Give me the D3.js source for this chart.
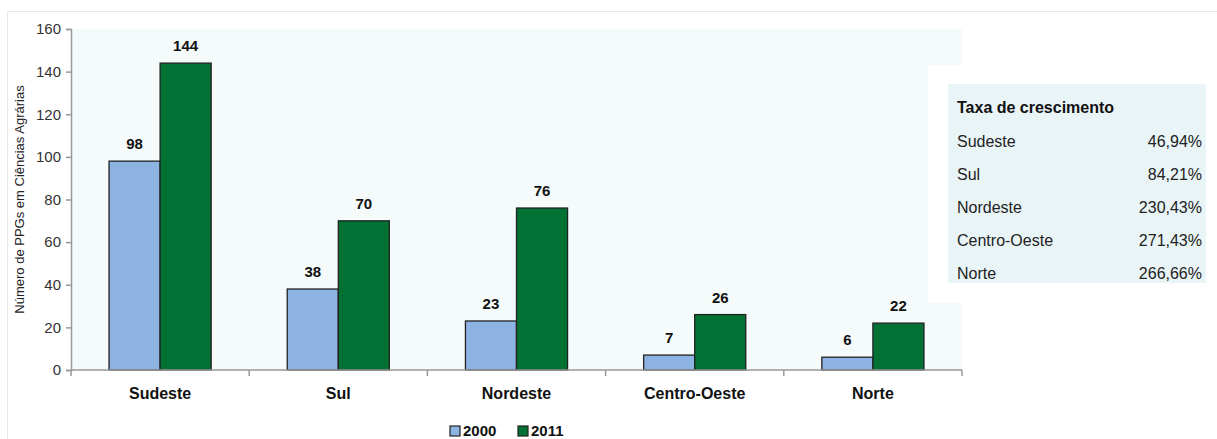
<!DOCTYPE html>
<html>
<head>
<meta charset="utf-8">
<script src="https://cdn.jsdelivr.net/npm/d3@7"></script>
<style>
  body { margin: 0; background: #fff; }
  svg text { font-family: "Liberation Sans Narrow", "Arial Narrow", "Liberation Sans", Arial, sans-serif; }
</style>
</head>
<body>
<div id="chart"></div>
<script>
var regions = ["Sudeste", "Sul", "Nordeste", "Centro-Oeste", "Norte"];
var years = ["2000", "2011"];
var values2000 = [98, 38, 23, 7, 6];
var values2011 = [144, 70, 76, 26, 22];
var yTicks = [0, 20, 40, 60, 80, 100, 120, 140, 160];
var growthLabels = ["Sudeste", "Sul", "Nordeste", "Centro-Oeste", "Norte"];
var growthRates = ["46,94%", "84,21%", "230,43%", "271,43%", "266,66%"];

var colors = { "2000": "#8db3e2", "2011": "#017234" };

var width = 1217, height = 439;
var plotLeft = 71, plotRight = 962, plotTop = 29, plotBottom = 370;

var svg = d3.select("#chart").append("svg")
  .attr("width", width)
  .attr("height", height);

// outer frame
svg.append("rect")
  .attr("x", 7.5).attr("y", 11.5)
  .attr("width", 1230).attr("height", 450)
  .attr("fill", "none")
  .attr("stroke", "#e8e8e8");

// plot background
svg.append("rect")
  .attr("x", plotLeft).attr("y", plotTop)
  .attr("width", plotRight - plotLeft).attr("height", plotBottom - plotTop)
  .attr("fill", "#f5fafa");

var x0 = d3.scaleBand()
  .domain(regions)
  .range([plotLeft, plotRight]);

var x1 = d3.scaleBand()
  .domain(years)
  .range([0, x0.bandwidth()])
  .paddingInner(0)
  .paddingOuter(0.745);

var y = d3.scaleLinear()
  .domain([0, 160])
  .range([plotBottom, plotTop]);

var data = regions.map(function(r, i) {
  return { region: r, vals: [
    { year: "2000", value: values2000[i] },
    { year: "2011", value: values2011[i] }
  ]};
});

//bars
var groups = svg.append("g").selectAll("g")
  .data(data)
  .join("g")
  .attr("transform", function(d) { return "translate(" + x0(d.region) + ",0)"; });

groups.selectAll("rect")
  .data(function(d) { return d.vals; })
  .join("rect")
  .attr("x", function(d) { return x1(d.year); })
  .attr("y", function(d) { return y(d.value); })
  .attr("width", x1.bandwidth())
  .attr("height", function(d) { return y(0) - y(d.value); })
  .attr("fill", function(d) { return colors[d.year]; })
  .attr("stroke", "#222")
  .attr("stroke-width", 1.3);

groups.selectAll("text")
  .data(function(d) { return d.vals; })
  .join("text")
  .attr("x", function(d) { return x1(d.year) + x1.bandwidth() / 2; })
  .attr("y", function(d) { return y(d.value) - 12; })
  .attr("text-anchor", "middle")
  .attr("font-size", 15)
  .attr("font-weight", "bold")
  .attr("fill", "#111")
  .text(function(d) { return d.value; });

//y axis
var yAxis = svg.append("g")
  .attr("transform", "translate(" + plotLeft + ",0)")
  .call(d3.axisLeft(y).tickValues(yTicks).tickSize(5).tickPadding(5));
yAxis.selectAll("path, line").attr("stroke", "#999").attr("stroke-width", 1.5);
yAxis.selectAll("text").attr("font-size", 15).attr("fill", "#333")
  .style("font-family", "'Liberation Sans Narrow', 'Arial Narrow', sans-serif");

//x axis
var xAxis = svg.append("g")
  .attr("transform", "translate(0," + plotBottom + ")");
xAxis.append("line")
  .attr("x1", plotLeft).attr("x2", plotRight)
  .attr("stroke", "#999").attr("stroke-width", 1.5);
xAxis.selectAll(".tick")
  .data(regions.concat(["end"]))
  .join("line")
  .attr("class", "tick")
  .attr("x1", function(d, i) { return i < regions.length ? x0(d) : plotRight; })
  .attr("x2", function(d, i) { return i < regions.length ? x0(d) : plotRight; })
  .attr("y1", 0).attr("y2", 6)
  .attr("stroke", "#999").attr("stroke-width", 1.5);
xAxis.selectAll(".cat")
  .data(regions)
  .join("text")
  .attr("class", "cat")
  .attr("x", function(d) { return x0(d) + x0.bandwidth() / 2; })
  .attr("y", 29)
  .attr("text-anchor", "middle")
  .attr("font-size", 16)
  .attr("font-weight", "bold")
  .attr("fill", "#111")
  .style("font-family", "'Liberation Sans', Arial, sans-serif")
  .text(function(d) { return d; });

//y axis title
svg.append("text")
  .attr("transform", "translate(24," + ((plotTop + plotBottom) / 2) + ") rotate(-90)")
  .attr("text-anchor", "middle")
  .attr("font-size", 13)
  .attr("fill", "#222")
  .text("Número de PPGs em Ciências Agrárias");

//legend
var legend = svg.append("g")
  .selectAll("g")
  .data(years)
  .join("g")
  .attr("transform", function(d, i) { return "translate(" + (450 + i * 68) + ",426)"; });
legend.append("rect")
  .attr("width", 10).attr("height", 10)
  .attr("fill", function(d) { return colors[d]; })
  .attr("stroke", "#222").attr("stroke-width", 1.2);
legend.append("text")
  .attr("x", 13).attr("y", 10)
  .attr("font-size", 15)
  .attr("font-weight", "bold")
  .attr("fill", "#111")
  .text(function(d) { return d; });

//growth table
svg.append("rect")
  .attr("x", 928).attr("y", 65)
  .attr("width", 289).attr("height", 238)
  .attr("fill", "#fff");
svg.append("rect")
  .attr("x", 948).attr("y", 84)
  .attr("width", 258).attr("height", 199)
  .attr("fill", "#e9f4f7");

var table = svg.append("g");
table.append("text")
  .attr("x", 957).attr("y", 113)
  .attr("font-size", 16)
  .attr("font-weight", "bold")
  .attr("fill", "#111")
  .style("font-family", "'Liberation Sans', Arial, sans-serif")
  .text("Taxa de crescimento");

var rowY = d3.scalePoint()
  .domain(growthLabels)
  .range([147, 279]);

table.selectAll(".lab")
  .data(growthLabels)
  .join("text")
  .attr("class", "lab")
  .attr("x", 957)
  .attr("y", function(d) { return rowY(d); })
  .attr("font-size", 16)
  .attr("fill", "#222")
  .style("font-family", "'Liberation Sans', Arial, sans-serif")
  .text(function(d) { return d; });

table.selectAll(".val")
  .data(growthRates)
  .join("text")
  .attr("class", "val")
  .attr("x", 1202)
  .attr("y", function(d, i) { return rowY(growthLabels[i]); })
  .attr("text-anchor", "end")
  .attr("font-size", 16)
  .attr("fill", "#222")
  .style("font-family", "'Liberation Sans', Arial, sans-serif")
  .text(function(d) { return d; });
</script>
</body>
</html>
